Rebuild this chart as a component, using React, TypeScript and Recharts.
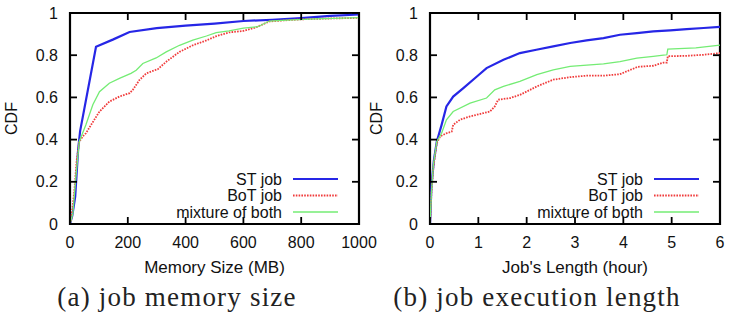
import { LineChart, Line, XAxis, YAxis, Legend, ReferenceArea } from 'recharts';

const SANS = '"Liberation Sans", Arial, Helvetica, sans-serif';
const SERIF = '"Liberation Serif", "Times New Roman", serif';

// CDF of job memory size (MB)
const memStX = [0, 8, 18, 28, 35, 90, 150, 206, 300, 400, 500, 600, 700, 800, 900, 1000];
const memStY = [0, 0.04, 0.13, 0.35, 0.44, 0.84, 0.875, 0.91, 0.928, 0.94, 0.95, 0.962, 0.968, 0.976, 0.986, 0.993];
const memBotX = [0, 4, 15, 23, 32, 44, 55, 73, 102, 136, 171, 206, 217, 240, 264, 304, 333, 379, 425, 472, 506, 550, 600, 640, 665, 690, 740, 800, 900, 1000];
const memBotY = [0, 0.02, 0.157, 0.3, 0.39, 0.415, 0.43, 0.47, 0.533, 0.58, 0.604, 0.62, 0.635, 0.682, 0.714, 0.734, 0.769, 0.816, 0.847, 0.87, 0.89, 0.908, 0.915, 0.93, 0.945, 0.96, 0.965, 0.97, 0.974, 0.977];
const memMixX = [0, 10, 20, 32, 55, 79, 102, 136, 171, 211, 229, 252, 298, 333, 379, 425, 472, 506, 550, 600, 650, 690, 750, 850, 1000];
const memMixY = [0, 0.05, 0.22, 0.39, 0.47, 0.565, 0.627, 0.667, 0.69, 0.714, 0.729, 0.761, 0.787, 0.816, 0.847, 0.871, 0.891, 0.907, 0.915, 0.928, 0.935, 0.962, 0.966, 0.972, 0.978];

// CDF of job execution length (hours)
const lenStX = [0, 0.03, 0.08, 0.14, 0.24, 0.34, 0.48, 0.69, 0.97, 1.17, 1.52, 1.86, 2.2, 2.55, 2.9, 3.24, 3.59, 3.93, 4.28, 4.62, 4.97, 5.31, 5.66, 6];
const lenStY = [0, 0.18, 0.3, 0.39, 0.47, 0.557, 0.604, 0.644, 0.699, 0.739, 0.778, 0.81, 0.826, 0.842, 0.858, 0.87, 0.881, 0.897, 0.905, 0.913, 0.918, 0.924, 0.929, 0.934];
const lenBotX = [0, 0.03, 0.07, 0.14, 0.21, 0.34, 0.45, 0.48, 0.62, 0.83, 1.1, 1.24, 1.34, 1.41, 1.66, 1.86, 2.21, 2.55, 2.9, 3.24, 3.59, 3.93, 4.14, 4.3, 4.62, 4.83, 4.9, 4.92, 5.31, 5.66, 6];
const lenBotY = [0, 0.15, 0.27, 0.383, 0.415, 0.43, 0.438, 0.47, 0.494, 0.51, 0.525, 0.533, 0.557, 0.589, 0.597, 0.612, 0.652, 0.684, 0.696, 0.703, 0.703, 0.71, 0.73, 0.745, 0.75, 0.765, 0.765, 0.795, 0.797, 0.802, 0.81];
const lenMixX = [0, 0.03, 0.07, 0.14, 0.24, 0.34, 0.48, 0.83, 1.17, 1.34, 1.52, 1.86, 2.21, 2.55, 2.9, 3.59, 3.93, 4.28, 4.62, 4.83, 4.9, 4.92, 5.5, 6];
const lenMixY = [0, 0.15, 0.28, 0.39, 0.43, 0.494, 0.533, 0.573, 0.597, 0.636, 0.652, 0.676, 0.708, 0.731, 0.747, 0.759, 0.77, 0.786, 0.794, 0.8, 0.802, 0.829, 0.835, 0.848];

const cdfTicks = [0, 0.2, 0.4, 0.6, 0.8, 1];
const memTicks = [0, 200, 400, 600, 800, 1000];
const lenTicks = [0, 1, 2, 3, 4, 5, 6];

const seriesNames = ['ST job', 'BoT job', 'mixture of both'];

const seriesStyle = [
  { color: '#2626e6', width: 2.2, dash: undefined as string | undefined },
  { color: '#f03c3c', width: 1.8, dash: '1.6 1.2' },
  { color: '#74ec74', width: 1.3, dash: undefined as string | undefined },
];

// plot box, shared by both panels
const PLOT_TOP = 13;
const PLOT_BOTTOM = 224;
const Y_AXIS_W = 70;
const TICK_LEN = 7;
const TICK_W = 1.8;
const INK = '#000';

const zip = (xs: number[], ys: number[]) => xs.map((x, i) => ({ x, y: ys[i] }));

function CdfLegend() {
  return (
    <svg width={200} height={56} style={{ display: 'block' }}>
      {seriesNames.map((name, i) => {
        const cy = 11 + i * 16.5;
        const s = seriesStyle[i];
        return (
          <g key={name}>
            <text x={132} y={cy} textAnchor="end" dominantBaseline="central" fontFamily={SANS} fontSize={16} fill="#111">
              {name}
            </text>
            <line x1={143} x2={188} y1={cy} y2={cy} stroke={s.color} strokeWidth={s.width} strokeDasharray={s.dash} />
          </g>
        );
      })}
    </svg>
  );
}

// gnuplot-style ticks: label outside, short marks inside on both opposite edges
function BottomTick(props: any) {
  const { x, y, payload } = props;
  return (
    <g>
      <line x1={x} x2={x} y1={PLOT_BOTTOM} y2={PLOT_BOTTOM - TICK_LEN} stroke={INK} strokeWidth={TICK_W} />
      <line x1={x} x2={x} y1={PLOT_TOP} y2={PLOT_TOP + TICK_LEN} stroke={INK} strokeWidth={TICK_W} />
      <text x={x} y={y} dy="0.71em" textAnchor="middle" fontFamily={SANS} fontSize={16} fill="#111">
        {payload.value}
      </text>
    </g>
  );
}

function makeLeftTick(plotRight: number) {
  return function LeftTick(props: any) {
    const { x, y, payload } = props;
    return (
      <g>
        <line x1={Y_AXIS_W} x2={Y_AXIS_W + TICK_LEN} y1={y} y2={y} stroke={INK} strokeWidth={TICK_W} />
        <line x1={plotRight} x2={plotRight - TICK_LEN} y1={y} y2={y} stroke={INK} strokeWidth={TICK_W} />
        <text x={x} y={y} dy="0.355em" textAnchor="end" fontFamily={SANS} fontSize={16} fill="#111">
          {payload.value}
        </text>
      </g>
    );
  };
}

type PanelProps = {
  left: number;
  width: number;
  marginRight: number;
  xDomain: [number, number];
  xTicks: number[];
  xTitle: string;
  yTitleX: number;
  legendLeft: number;
  series: { x: number; y: number }[][];
};

function CdfPanel(p: PanelProps) {
  const plotRight = p.width - p.marginRight;
  return (
    <div style={{ position: 'absolute', left: p.left, top: 0 }}>
      <LineChart
        width={p.width}
        height={312}
        margin={{ top: PLOT_TOP, right: p.marginRight, bottom: 312 - PLOT_BOTTOM - 40, left: 0 }}
      >
        <XAxis
          xAxisId="b"
          type="number"
          dataKey="x"
          domain={p.xDomain}
          ticks={p.xTicks}
          interval={0}
          allowDataOverflow
          height={40}
          tickSize={0}
          tickMargin={13}
          axisLine={false}
          tickLine={false}
          tick={BottomTick}
          label={{
            content: ({ viewBox }: any) => (
              <text x={viewBox.x + viewBox.width / 2} y={viewBox.y + 49} textAnchor="middle" fontFamily={SANS} fontSize={17} fill="#111">
                {p.xTitle}
              </text>
            ),
          }}
        />
        <YAxis
          yAxisId="l"
          type="number"
          domain={[0, 1]}
          ticks={cdfTicks}
          interval={0}
          allowDataOverflow
          width={Y_AXIS_W}
          tickSize={0}
          tickMargin={12}
          axisLine={false}
          tickLine={false}
          tick={makeLeftTick(plotRight)}
          label={{
            content: ({ viewBox }: any) => {
              const cx = p.yTitleX;
              const cy = viewBox.y + viewBox.height / 2;
              return (
                <text x={cx} y={cy} textAnchor="middle" dominantBaseline="central" transform={`rotate(-90 ${cx} ${cy})`} fontFamily={SANS} fontSize={16} fill="#111">
                  CDF
                </text>
              );
            },
          }}
        />
        {/* plot border */}
        <ReferenceArea
          xAxisId="b"
          yAxisId="l"
          x1={p.xDomain[0]}
          x2={p.xDomain[1]}
          y1={0}
          y2={1}
          fill="none"
          fillOpacity={0}
          stroke={INK}
          strokeOpacity={1}
          strokeWidth={2.2}
          ifOverflow="visible"
        />
        <Legend
          layout="horizontal"
          verticalAlign="middle"
          align="center"
          wrapperStyle={{ left: p.legendLeft, top: 168, width: 200, height: 56 }}
          content={() => <CdfLegend />}
        />
        {p.series.map((data, i) => (
          <Line
            key={seriesNames[i]}
            xAxisId="b"
            yAxisId="l"
            data={data}
            dataKey="y"
            name={seriesNames[i]}
            type="linear"
            stroke={seriesStyle[i].color}
            strokeWidth={seriesStyle[i].width}
            strokeDasharray={seriesStyle[i].dash}
            dot={false}
            activeDot={false}
            isAnimationActive={false}
          />
        ))}
      </LineChart>
    </div>
  );
}

export default function App() {
  return (
    <div style={{ position: 'absolute', left: 0, top: 0, width: 732, height: 312, background: '#fff', overflow: 'hidden' }}>
      <CdfPanel
        left={0}
        width={380}
        marginRight={21}
        xDomain={[0, 1000]}
        xTicks={memTicks}
        xTitle="Memory Size (MB)"
        yTitleX={11}
        legendLeft={150}
        series={[zip(memStX, memStY), zip(memBotX, memBotY), zip(memMixX, memMixY)]}
      />
      <CdfPanel
        left={360}
        width={372}
        marginRight={12}
        xDomain={[0, 6]}
        xTicks={lenTicks}
        xTitle="Job's Length (hour)"
        yTitleX={16}
        legendLeft={151}
        series={[zip(lenStX, lenStY), zip(lenBotX, lenBotY), zip(lenMixX, lenMixY)]}
      />
      <svg width={732} height={312} style={{ position: 'absolute', left: 0, top: 0, pointerEvents: 'none' }}>
        <text x={177} y={306} textAnchor="middle" fontFamily={SERIF} fontSize={27} letterSpacing={1.2} fill="#222">
          (a) job memory size
        </text>
        <text x={537} y={306} textAnchor="middle" fontFamily={SERIF} fontSize={27} letterSpacing={1.2} fill="#222">
          (b) job execution length
        </text>
      </svg>
    </div>
  );
}
